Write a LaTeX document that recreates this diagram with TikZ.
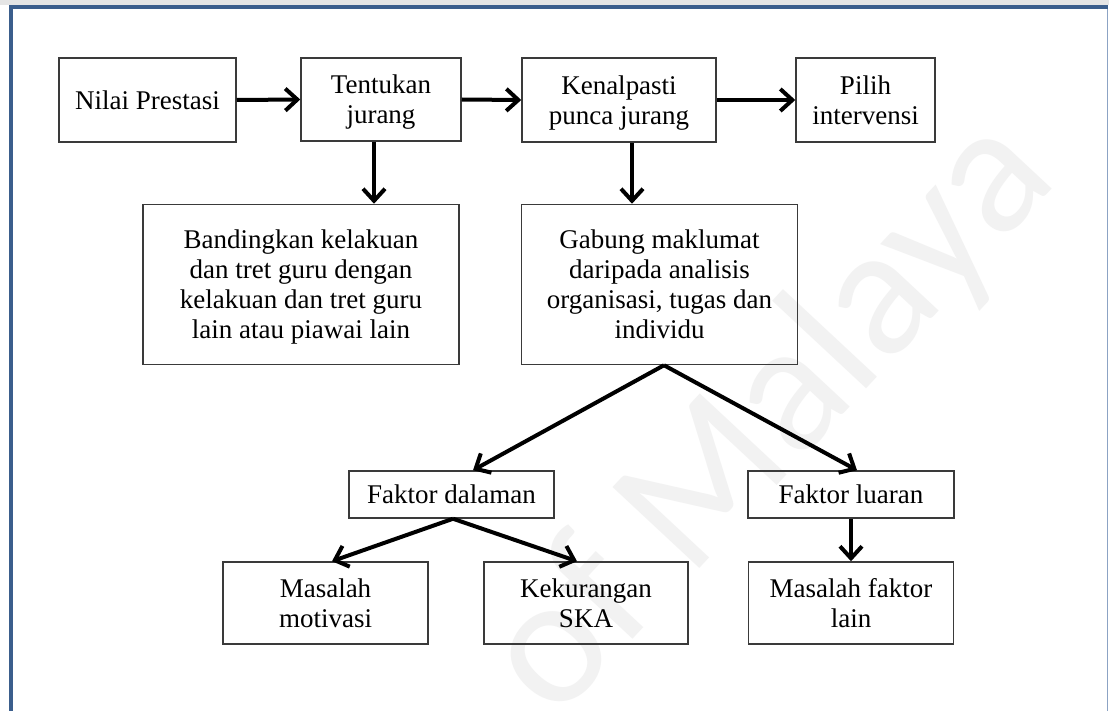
\documentclass[tikz,border=0pt]{standalone}
\usepackage{fontspec}
\setmainfont{Liberation Serif}
\newfontfamily\wmfont{Carlito}
\usetikzlibrary{arrows.meta,calc}
\definecolor{framedark}{HTML}{3B5E8C}
\definecolor{framelight}{HTML}{8CA3C4}
\definecolor{boxline}{HTML}{3A3A3A}
\begin{document}
\begin{tikzpicture}[x=1pt,y=-1pt,
  stepbox/.style={draw=boxline,line width=1.5pt,align=center,inner sep=0pt,
    text depth=0pt,font=\fontsize{27}{30}\selectfont},
  arr/.style={line width=4pt,-{Straight Barb[length=12pt,width=22pt]}},
  wmark/.style={text=black!5,font=\wmfont\fontsize{185}{185}\selectfont}]
\useasboundingbox (0,0) rectangle (1109,711);
\fill[white] (0,0) rectangle (1109,711);
% frame around the figure
\fill[black!10] (0,0) rectangle (1109,5);
\draw[framedark,line width=4pt] (10.5,711) -- (10.5,7) -- (1108,7);
\draw[framelight,line width=1.5pt] (1107.5,9) -- (1107.5,711);
% background watermark
\node[wmark,rotate=47] (wm) at (772,418) {of Malaya};
% top row
\node[stepbox,minimum width=177pt,minimum height=84pt] (np) at (147.5,100) {Nilai Prestasi};
\node[stepbox,minimum width=160pt,minimum height=83pt] (tj) at (381,99.5) {Tentukan\\jurang};
\node[stepbox,minimum width=194pt,minimum height=84pt] (kp) at (619,100) {Kenalpasti\\punca jurang};
\node[stepbox,minimum width=139pt,minimum height=84pt] (pi) at (865.5,100) {Pilih\\intervensi};
% second row
\node[stepbox,minimum width=316pt,minimum height=160pt,text depth=-10pt] (bd) at (301,284.5)
  {Bandingkan kelakuan\\dan tret guru dengan\\kelakuan dan tret guru\\lain atau piawai lain};
\node[stepbox,minimum width=276pt,minimum height=160pt] (gb) at (659.5,284.5)
  {Gabung maklumat\\daripada analisis\\organisasi, tugas dan\\individu};
% factors
\node[stepbox,minimum width=205pt,minimum height=47pt] (fd) at (451.5,494.5) {Faktor dalaman};
\node[stepbox,minimum width=206pt,minimum height=47pt] (fl) at (851,494.5) {Faktor luaran};
% bottom row
\node[stepbox,minimum width=205pt,minimum height=82pt] (mm) at (325.5,603) {Masalah\\motivasi};
\node[stepbox,minimum width=204pt,minimum height=82pt] (ks) at (586,603) {Kekurangan\\SKA};
\node[stepbox,minimum width=205pt,minimum height=82pt] (mf) at (851,603) {Masalah faktor\\lain};
% connectors
\draw[arr] (np.east) -- (tj.west);
\draw[arr] (tj.east) -- (kp.west);
\draw[arr] (kp.east) -- (pi.west);
\draw[arr] ([xshift=-7pt]tj.south) -- ([xshift=-7pt]tj.south |- bd.north);
\draw[arr] ([xshift=13pt]kp.south) -- ([xshift=13pt]kp.south |- gb.north);
\draw[arr] ([xshift=4.5pt]gb.south) -- ([xshift=21.5pt]fd.north);
\draw[arr] ([xshift=4.5pt]gb.south) -- ([xshift=6pt]fl.north);
\draw[arr] ([xshift=1.5pt]fd.south) -- ([xshift=6.5pt]mm.north);
\draw[arr] ([xshift=1.5pt]fd.south) -- ([xshift=-9pt]ks.north);
\draw[arr] (fl.south) -- (mf.north);
\end{tikzpicture}
\end{document}
